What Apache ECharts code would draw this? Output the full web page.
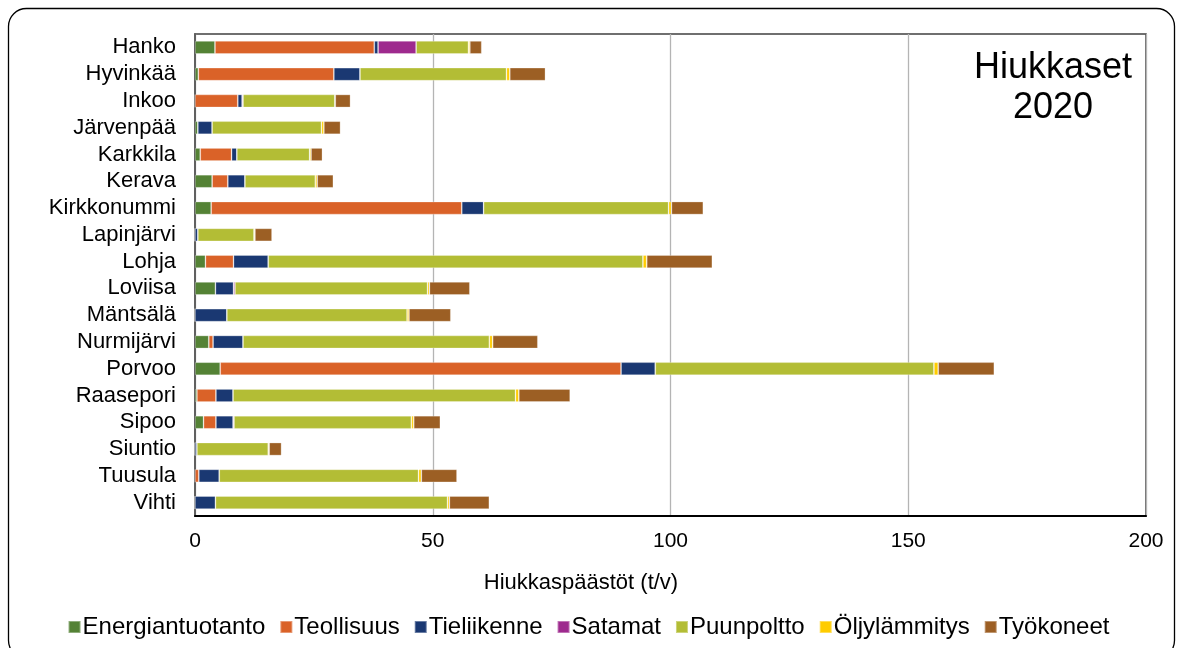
<!DOCTYPE html>
<html>
<head>
<meta charset="utf-8">
<script src="https://cdn.jsdelivr.net/npm/echarts@6/dist/echarts.min.js"></script>
<style>
  html, body { margin: 0; padding: 0; background: #fff; }
  #chart { width: 1177px; height: 648px; }
</style>
</head>
<body>
<div id="chart"></div>
<script>
// Municipalities, top to bottom
const categories = ['Hanko','Hyvinkää','Inkoo','Järvenpää','Karkkila','Kerava','Kirkkonummi','Lapinjärvi','Lohja','Loviisa','Mäntsälä','Nurmijärvi','Porvoo','Raasepori','Sipoo','Siuntio','Tuusula','Vihti'];

// Particle emissions by source (t/v)
const energiantuotanto = [4.2, 0.7, 0, 0.6, 1.1, 3.6, 3.4, 0, 2.2, 4.3, 0, 2.9, 5.3, 0.4, 1.8, 0, 0, 0];
const teollisuus       = [33.5, 28.5, 9.0, 0, 6.6, 3.3, 52.7, 0, 5.9, 0, 0, 0.9, 84.3, 4.0, 2.6, 0, 0.8, 0];
const tieliikenne      = [0.8, 5.5, 0.9, 3.0, 1.1, 3.6, 4.6, 0.6, 7.3, 3.8, 6.7, 6.3, 7.2, 3.6, 3.6, 0.4, 4.3, 4.3];
const satamat          = [8.0, 0, 0.2, 0, 0, 0, 0, 0, 0, 0.3, 0, 0, 0, 0, 0.2, 0, 0, 0];
const puunpoltto       = [11.0, 30.8, 19.3, 23.0, 15.3, 14.8, 38.9, 11.8, 78.8, 40.5, 37.9, 51.8, 58.6, 59.4, 37.3, 15.0, 41.9, 48.8];
const oljylammitys     = [0.3, 0.7, 0.1, 0.5, 0.3, 0.4, 0.6, 0.2, 0.8, 0.4, 0.4, 0.7, 0.9, 0.7, 0.5, 0.2, 0.6, 0.4];
const tyokoneet        = [2.5, 7.5, 3.2, 3.5, 2.4, 3.4, 6.7, 3.6, 13.8, 8.5, 8.8, 9.5, 11.8, 10.8, 5.6, 2.6, 7.5, 8.4];

const xTicks = [0, 50, 100, 150, 200];

const seriesDefs = [
  ['Energiantuotanto', energiantuotanto, '#548235'],
  ['Teollisuus', teollisuus, '#da6228'],
  ['Tieliikenne', tieliikenne, '#1a3872'],
  ['Satamat', satamat, '#9e2a8e'],
  ['Puunpoltto', puunpoltto, '#b3bd35'],
  ['Öljylämmitys', oljylammitys, '#ffcc00'],
  ['Työkoneet', tyokoneet, '#9c5f24']
];

const FONT = 'Liberation Sans, Arial, sans-serif';
const chart = echarts.init(document.getElementById('chart'), null, { renderer: 'canvas' });

chart.setOption({
  animation: false,
  backgroundColor: '#ffffff',
  textStyle: { fontFamily: FONT, color: '#000' },
  graphic: [
    {
      type: 'rect',
      shape: { x: 8.5, y: 8.5, width: 1166, height: 650, r: 18 },
      style: { fill: 'none', stroke: '#000', lineWidth: 1.3 },
      z: -1
    },
    {
      // chart title inside the plot area
      type: 'text',
      x: 1053, y: 48,
      style: {
        text: 'Hiukkaset\n2020',
        fontFamily: FONT, fontSize: 36, lineHeight: 40,
        fill: '#000', align: 'center', verticalAlign: 'top'
      },
      z: 10
    },
    {
      // x axis title
      type: 'text',
      x: 581, y: 583,
      style: {
        text: 'Hiukkaspäästöt (t/v)',
        fontFamily: FONT, fontSize: 22,
        fill: '#000', align: 'center', verticalAlign: 'middle'
      }
    }
  ],
  legend: {
    bottom: 4,
    left: 'center',
    itemWidth: 12,
    itemHeight: 12,
    itemGap: 14,
    icon: 'rect',
    textStyle: { fontFamily: FONT, fontSize: 24, color: '#000', padding: [0, 0, 0, -3] },
    data: seriesDefs.map(d => d[0])
  },
  grid: {
    left: 195, right: 31, top: 34, bottom: 132,
    show: true, borderColor: '#404040', borderWidth: 1.5,
    containLabel: false
  },
  xAxis: {
    type: 'value',
    min: xTicks[0], max: xTicks[xTicks.length - 1], interval: 50,
    axisLine: { show: true, lineStyle: { color: '#000', width: 2 } },
    axisTick: { show: false },
    axisLabel: { fontFamily: FONT, fontSize: 21, color: '#000', margin: 15 },
    splitLine: { show: true, lineStyle: { color: '#b4b4b4', width: 1.3 } }
  },
  yAxis: {
    type: 'category',
    data: categories,
    inverse: true,
    axisLine: { show: true, lineStyle: { color: '#606060', width: 2 } },
    axisTick: { show: false },
    axisLabel: { fontFamily: FONT, fontSize: 22, color: '#000', margin: 19, interval: 0 }
  },
  series: seriesDefs.map(([name, data, color]) => ({
    name,
    type: 'bar',
    stack: 'total',
    data,
    barWidth: 13,
    itemStyle: { color, borderColor: 'rgba(255,255,255,0.35)', borderWidth: 0.8 }
  }))
});
</script>
</body>
</html>
